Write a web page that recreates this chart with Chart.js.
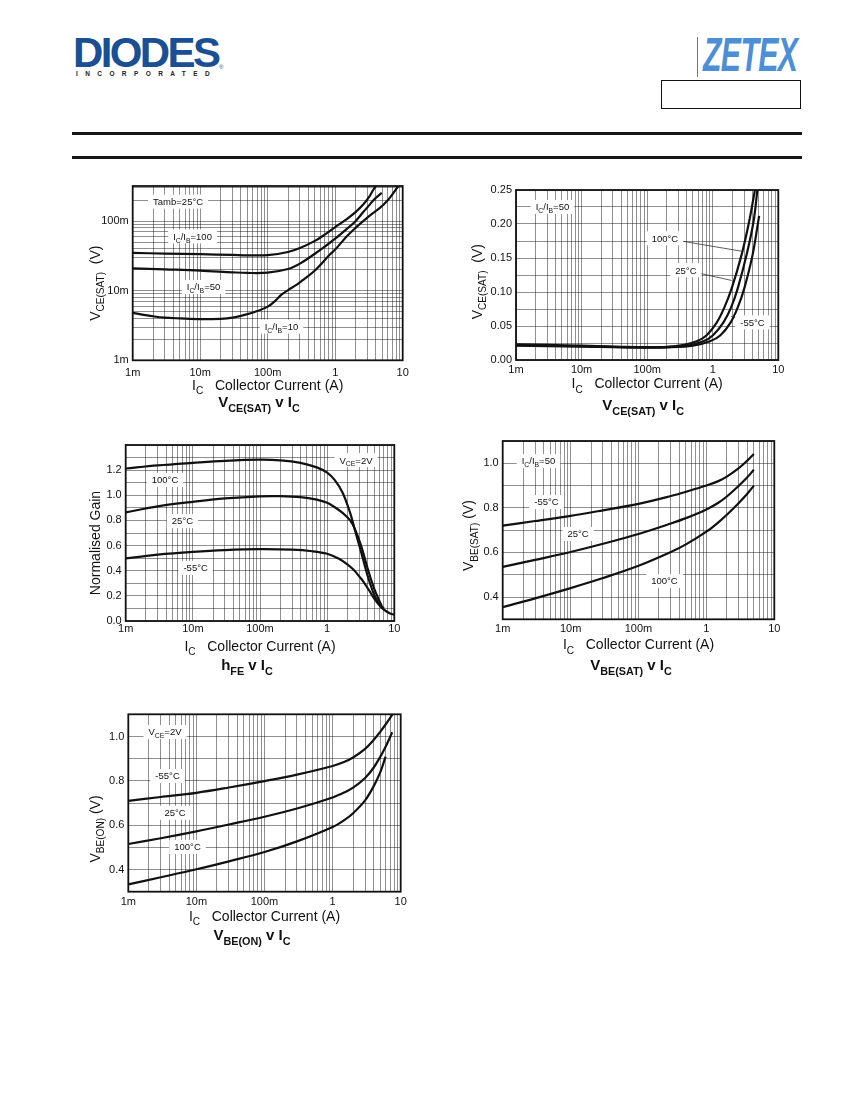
<!DOCTYPE html>
<html>
<head>
<meta charset="utf-8">
<title>Typical characteristics</title>
<script src="https://cdn.jsdelivr.net/npm/chart.js@4.4.1/dist/chart.umd.min.js"></script>
<style>
  body { margin: 0; background: #fff; width: 850px; height: 1100px; position: relative; overflow: hidden;
         font-family: "Liberation Sans", Arial, Helvetica, sans-serif; }
  .abs { position: absolute; line-height: 1; white-space: nowrap; }
  canvas { position: absolute; }
  #diodes { left: 73px; top: 32px; font-size: 42px; font-weight: 900; color: #1b4f93; letter-spacing: -2.6px; }
  #inc { left: 76px; top: 71px; font-size: 6.5px; font-weight: bold; color: #222; letter-spacing: 7.4px; }
  #reg { left: 219px; top: 64px; font-size: 6px; color: #1b4f93; }
  #zetex { left: 703px; top: 31px; font-size: 48px; font-weight: bold; font-style: italic; color: #4d8fd6;
           transform: scaleX(0.63); transform-origin: left top; letter-spacing: -1px; }
  #zbar { left: 697px; top: 37px; width: 1px; height: 40px; background: #777; }
  #pbox { left: 661px; top: 80px; width: 138px; height: 27px; border: 1px solid #111; }
  .rule { left: 72px; width: 730px; height: 2.5px; background: #161616; }
</style>
</head>
<body>
<div class="abs" id="diodes">DIODES</div>
<div class="abs" id="inc">INCORPORATED</div>
<div class="abs" id="reg">®</div>
<div class="abs" id="zbar"></div>
<div class="abs" id="zetex">ZETEX</div>
<div class="abs" id="pbox"></div>
<div class="abs rule" style="top:132px"></div>
<div class="abs rule" style="top:156px"></div>

<canvas id="c1"></canvas>
<canvas id="c2"></canvas>
<canvas id="c3"></canvas>
<canvas id="c4"></canvas>
<canvas id="c5"></canvas>

<script>
var FONT = '"Liberation Sans", Arial, Helvetica, sans-serif';
Chart.defaults.font.family = FONT;
Chart.defaults.color = '#111';

// ---------- values ----------
// collector current axis (A)
var decadeValues = [0.001, 0.01, 0.1, 1, 10];
var decadeNames = ['1m', '10m', '100m', '1', '10'];

// VCE(SAT) v IC, Tamb = 25°C (V, log)
var satIb100X = [0.001, 0.003, 0.01, 0.03, 0.05, 0.1, 0.2, 0.3, 0.5, 0.7, 1, 1.5, 2, 2.6, 3.2, 3.65, 4.1];
var satIb100Y = [0.035, 0.0342, 0.0335, 0.0327, 0.0322, 0.0325, 0.036, 0.041, 0.052, 0.064, 0.082, 0.108, 0.135, 0.173, 0.225, 0.28, 0.33];
var satIb50X = [0.001, 0.003, 0.01, 0.03, 0.05, 0.1, 0.2, 0.3, 0.5, 0.7, 1, 1.5, 2, 2.6, 3.2, 3.6, 4.2, 4.9];
var satIb50Y = [0.021, 0.0203, 0.0195, 0.0184, 0.018, 0.0182, 0.0205, 0.0245, 0.034, 0.043, 0.056, 0.078, 0.1, 0.135, 0.17, 0.195, 0.225, 0.255];
var satIb10X = [0.001, 0.002, 0.003, 0.005, 0.01, 0.02, 0.03, 0.05, 0.07, 0.1, 0.13, 0.16, 0.2, 0.27, 0.35, 0.5, 0.84, 1, 1.5, 2, 2.6, 3.5, 4.6, 6, 7.3, 8.6];
var satIb10Y = [0.0048, 0.0043, 0.0041, 0.004, 0.0039, 0.00395, 0.0041, 0.0046, 0.0051, 0.0059, 0.0072, 0.0088, 0.0102, 0.0122, 0.0148, 0.0195, 0.0334, 0.039, 0.061, 0.08, 0.1, 0.127, 0.155, 0.2, 0.255, 0.32];

// VCE(SAT) v IC, IC/IB = 50 (V, linear)
var satT100X = [0.001, 0.003, 0.01, 0.03, 0.1, 0.2, 0.35, 0.57, 0.8, 1.15, 1.5, 1.94, 2.76, 3.6, 4.4];
var satT100Y = [0.023, 0.0222, 0.021, 0.0197, 0.019, 0.0195, 0.022, 0.0275, 0.036, 0.055, 0.077, 0.105, 0.155, 0.204, 0.25];
var satT25X = [0.001, 0.003, 0.01, 0.03, 0.1, 0.2, 0.4, 0.72, 1, 1.45, 1.9, 2.4, 3.29, 4.2, 4.8];
var satT25Y = [0.022, 0.0213, 0.0202, 0.0192, 0.0185, 0.019, 0.021, 0.0275, 0.036, 0.055, 0.077, 0.105, 0.155, 0.204, 0.25];
var satTm55X = [0.001, 0.003, 0.01, 0.03, 0.1, 0.2, 0.5, 0.91, 1.3, 1.87, 2.4, 3.02, 4.06, 5.1];
var satTm55Y = [0.021, 0.0205, 0.0198, 0.019, 0.0183, 0.0185, 0.021, 0.0275, 0.036, 0.055, 0.077, 0.105, 0.155, 0.212];

// hFE v IC, VCE = 2V (normalised gain)
var hfe100X = [0.001, 0.003, 0.01, 0.03, 0.1, 0.2, 0.4, 0.7, 1, 1.3, 1.7, 2.2, 2.6, 3.2, 4, 5, 6, 7];
var hfe100Y = [1.213, 1.238, 1.258, 1.274, 1.283, 1.278, 1.258, 1.222, 1.18, 1.12, 1.02, 0.86, 0.72, 0.55, 0.36, 0.21, 0.135, 0.1];
var hfe25X = [0.001, 0.003, 0.01, 0.03, 0.1, 0.2, 0.4, 0.7, 1, 1.3, 1.7, 2.2, 2.6, 3.2, 4, 5, 6, 6.5];
var hfe25Y = [0.864, 0.912, 0.948, 0.975, 0.992, 0.993, 0.985, 0.965, 0.94, 0.905, 0.86, 0.8, 0.73, 0.6, 0.42, 0.26, 0.16, 0.12];
var hfeM55X = [0.001, 0.003, 0.01, 0.03, 0.1, 0.3, 0.6, 1, 1.5, 2, 2.5, 3, 3.5, 4.2, 5, 6, 7, 8.5, 10];
var hfeM55Y = [0.498, 0.528, 0.55, 0.564, 0.571, 0.567, 0.555, 0.535, 0.495, 0.45, 0.405, 0.355, 0.31, 0.245, 0.18, 0.125, 0.09, 0.062, 0.05];

// VBE(SAT) v IC, IC/IB = 50 (V)
var bsatX = [0.001, 0.003, 0.01, 0.03, 0.1, 0.3, 0.5, 1, 1.5, 2, 3, 4, 5];
var bsatM55Y = [0.72, 0.741, 0.764, 0.789, 0.818, 0.853, 0.872, 0.9, 0.92, 0.94, 0.978, 1.012, 1.042];
var bsat25Y = [0.535, 0.5665, 0.602, 0.639, 0.683, 0.73, 0.754, 0.793, 0.823, 0.851, 0.899, 0.937, 0.971];
var bsat100Y = [0.355, 0.394, 0.44, 0.485, 0.54, 0.602, 0.636, 0.693, 0.735, 0.769, 0.822, 0.863, 0.9];

// VBE(ON) v IC, VCE = 2V (V)
var bonM55X = [0.001, 0.003, 0.01, 0.03, 0.1, 0.3, 1, 1.5, 2, 3, 4, 5, 6, 7, 8];
var bonM55Y = [0.71, 0.727, 0.746, 0.77, 0.799, 0.828, 0.867, 0.886, 0.905, 0.944, 0.984, 1.021, 1.054, 1.084, 1.11];
var bon25X = [0.001, 0.003, 0.01, 0.03, 0.1, 0.3, 1, 1.5, 2, 3, 4, 5, 6, 7, 7.5];
var bon25Y = [0.515, 0.541, 0.572, 0.603, 0.638, 0.675, 0.725, 0.748, 0.769, 0.813, 0.859, 0.908, 0.954, 0.998, 1.019];
var bon100X = [0.001, 0.003, 0.01, 0.03, 0.1, 0.3, 1, 1.5, 2, 3, 4, 5, 6];
var bon100Y = [0.333, 0.365, 0.401, 0.437, 0.479, 0.527, 0.592, 0.624, 0.654, 0.712, 0.775, 0.838, 0.909];

// ---------- helpers ----------
var GRID = 'rgba(0,0,0,0.55)';

function pts(xs, ys) {
  return xs.map(function (x, i) { return { x: x, y: ys[i] }; });
}

// 1..9 per decade, used for the grid lines of the log axes
function logGrid(min, max) {
  var out = [];
  for (var e = Math.floor(Math.log10(min)); e <= Math.ceil(Math.log10(max)); e++) {
    for (var m = 1; m < 10; m++) {
      var v = +(m * Math.pow(10, e)).toPrecision(3);
      if (v >= min * 0.999 && v <= max * 1.001) out.push(v);
    }
  }
  return out;
}

function logAxis(min, max, pad) {
  return {
    type: 'logarithmic', min: min, max: max,
    afterBuildTicks: function (s) {
      s.ticks = logGrid(min, max).map(function (v) { return { value: v }; });
    },
    ticks: {
      autoSkip: false, maxRotation: 0, padding: pad, font: { size: 11 }, color: '#111',
      callback: function (v) {
        var i = decadeValues.indexOf(v);
        return i < 0 ? '' : decadeNames[i];
      }
    },
    grid: { color: GRID, lineWidth: 0.8, drawTicks: false },
    border: { display: false }
  };
}

function linAxis(min, max, step, every, digits, labelMax) {
  return {
    type: 'linear', min: min, max: max,
    ticks: {
      stepSize: step, autoSkip: false, padding: 4, font: { size: 11 }, color: '#111',
      callback: function (v) {
        var k = Math.round(v / step);
        return (k % every === 0 && v <= labelMax + 1e-9) ? v.toFixed(digits) : '';
      }
    },
    grid: { color: GRID, lineWidth: 0.8, drawTicks: false },
    border: { display: false }
  };
}

function fontStr(size, bold) { return (bold ? 'bold ' : '') + size + 'px ' + FONT; }

// "V_{CE(SAT)}" -> V with subscript CE(SAT)
function richParts(str) {
  var parts = [], re = /_\{([^}]*)\}/g, last = 0, m;
  while ((m = re.exec(str))) {
    if (m.index > last) parts.push({ t: str.slice(last, m.index), sub: false });
    parts.push({ t: m[1], sub: true });
    last = re.lastIndex;
  }
  if (last < str.length) parts.push({ t: str.slice(last), sub: false });
  return parts;
}

function measureRich(ctx, str, size, bold) {
  return richParts(str).reduce(function (w, p) {
    ctx.font = fontStr(p.sub ? size * 0.72 : size, bold);
    return w + ctx.measureText(p.t).width;
  }, 0);
}

// x,y is the centre of the capitals
function drawRich(ctx, str, x, y, size, bold) {
  var total = measureRich(ctx, str, size, bold);
  var cx = x - total / 2, base = y + size * 0.36;
  ctx.textAlign = 'left';
  ctx.textBaseline = 'alphabetic';
  richParts(str).forEach(function (p) {
    ctx.font = fontStr(p.sub ? size * 0.72 : size, bold);
    ctx.fillText(p.t, cx, base + (p.sub ? size * 0.3 : 0));
    cx += ctx.measureText(p.t).width;
  });
}

var sheetPlugin = {
  id: 'sheet',
  afterDatasetsDraw: function (chart, args, o) {
    var ctx = chart.ctx, a = chart.chartArea, x = chart.scales.x, y = chart.scales.y;
    ctx.save();
    (o.leaders || []).forEach(function (l) {
      ctx.beginPath();
      ctx.moveTo(x.getPixelForValue(l[0]), y.getPixelForValue(l[1]));
      ctx.lineTo(x.getPixelForValue(l[2]), y.getPixelForValue(l[3]));
      ctx.strokeStyle = '#333';
      ctx.lineWidth = 0.8;
      ctx.stroke();
    });
    (o.notes || []).forEach(function (n) {
      var px = x.getPixelForValue(n.x), py = y.getPixelForValue(n.y);
      var w = measureRich(ctx, n.text, 9.5, false);
      ctx.fillStyle = '#fff';
      ctx.fillRect(px - w / 2 - 5, py - 7, w + 10, 14);
      ctx.fillStyle = '#111';
      drawRich(ctx, n.text, px, py, 9.5, false);
    });
    ctx.strokeStyle = '#111';
    ctx.lineWidth = 1.8;
    ctx.strokeRect(a.left, a.top, a.right - a.left, a.bottom - a.top);
    ctx.restore();
  },
  afterDraw: function (chart, args, o) {
    var ctx = chart.ctx, a = chart.chartArea;
    var mx = (a.left + a.right) / 2, my = (a.top + a.bottom) / 2;
    ctx.save();
    ctx.fillStyle = '#111';
    ctx.translate(a.left + o.yTitleDx, my + o.yTitleDy);
    ctx.rotate(-Math.PI / 2);
    drawRich(ctx, o.yTitle, 0, 0, 14, false);
    ctx.restore();
    ctx.save();
    ctx.fillStyle = '#111';
    drawRich(ctx, 'I_{C}   Collector Current (A)', mx, a.bottom + o.xTitleDy, 14, false);
    drawRich(ctx, o.caption, mx + o.capDx, a.bottom + o.capDy, 15, true);
    ctx.restore();
  }
};

function curve(xs, ys) {
  return {
    data: pts(xs, ys), borderColor: '#111', borderWidth: 2.2, pointRadius: 0,
    fill: false, tension: 0.35
  };
}

function makeSheet(id, plot, xAxis, yAxis, datasets, sheet) {
  var canvas = document.getElementById(id);
  var cl = Math.floor(plot.l - 62), ct = Math.floor(plot.t - 14);
  var cw = Math.ceil(plot.r + 24) - cl, ch = Math.ceil(plot.b + 62) - ct;
  canvas.style.left = cl + 'px';
  canvas.style.top = ct + 'px';
  canvas.width = cw;
  canvas.height = ch;
  canvas.style.width = cw + 'px';
  canvas.style.height = ch + 'px';
  xAxis.afterFit = function (s) { s.height = ct + ch - plot.b; };
  yAxis.afterFit = function (s) { s.width = plot.l - cl; };
  return new Chart(canvas, {
    type: 'line',
    data: { datasets: datasets },
    options: {
      responsive: false, animation: false, parsing: false,
      layout: { padding: { top: plot.t - ct, right: cl + cw - plot.r, bottom: 0, left: 0 } },
      scales: { x: xAxis, y: yAxis },
      plugins: { legend: { display: false }, tooltip: { enabled: false }, sheet: sheet }
    },
    plugins: [sheetPlugin]
  });
}

// ---------- the five graphs ----------
makeSheet('c1', { l: 132.7, t: 186, r: 402.7, b: 360.3 },
  logAxis(0.001, 10, 6), logAxis(0.001, 0.32, 4),
  [curve(satIb100X, satIb100Y), curve(satIb50X, satIb50Y), curve(satIb10X, satIb10Y)],
  {
    yTitle: 'V_{CE(SAT)}  (V)', yTitleDx: -37.7, yTitleDy: 10, xTitleDy: 24.7,
    caption: 'V_{CE(SAT)} v I_{C}', capDx: -8.7, capDy: 41.4,
    notes: [
      { text: 'Tamb=25°C', x: 0.0047, y: 0.191 },
      { text: 'I_{C}/I_{B}=100', x: 0.0077, y: 0.0605 },
      { text: 'I_{C}/I_{B}=50', x: 0.0112, y: 0.0113 },
      { text: 'I_{C}/I_{B}=10', x: 0.16, y: 0.00305 }
    ]
  });

makeSheet('c2', { l: 516, t: 190, r: 778.3, b: 360 },
  logAxis(0.001, 10, 3), linAxis(0, 0.25, 0.025, 2, 2, 0.25),
  [curve(satT100X, satT100Y), curve(satT25X, satT25Y), curve(satTm55X, satTm55Y)],
  {
    yTitle: 'V_{CE(SAT)}  (V)', yTitleDx: -39.3, yTitleDy: 6.7, xTitleDy: 23.3,
    caption: 'V_{CE(SAT)} v I_{C}', capDx: -4, capDy: 45,
    leaders: [[0.187, 0.179, 2.75, 0.16], [0.39, 0.132, 1.94, 0.117], [4.03, 0.0554, 1.9, 0.064]],
    notes: [
      { text: 'I_{C}/I_{B}=50', x: 0.0036, y: 0.225 },
      { text: '100°C', x: 0.187, y: 0.179 },
      { text: '25°C', x: 0.39, y: 0.132 },
      { text: '-55°C', x: 4.03, y: 0.0554 }
    ]
  });

makeSheet('c3', { l: 125.7, t: 445, r: 394.3, b: 621 },
  logAxis(0.001, 10, 1), linAxis(0, 1.4, 0.1, 2, 1, 1.2),
  [curve(hfe100X, hfe100Y), curve(hfe25X, hfe25Y), curve(hfeM55X, hfeM55Y)],
  {
    yTitle: 'Normalised Gain', yTitleDx: -30.7, yTitleDy: 10, xTitleDy: 24.7,
    caption: 'h_{FE} v I_{C}', capDx: -13, capDy: 44,
    notes: [
      { text: '100°C', x: 0.00385, y: 1.122 },
      { text: '25°C', x: 0.007, y: 0.795 },
      { text: '-55°C', x: 0.011, y: 0.422 },
      { text: 'V_{CE}=2V', x: 2.69, y: 1.28 }
    ]
  });

makeSheet('c4', { l: 502.7, t: 441, r: 774.3, b: 619.3 },
  logAxis(0.001, 10, 3), linAxis(0.3, 1.1, 0.1, 2, 1, 1.0),
  [curve(bsatX, bsatM55Y), curve(bsatX, bsat25Y), curve(bsatX, bsat100Y)],
  {
    yTitle: 'V_{BE(SAT)} (V)', yTitleDx: -34.4, yTitleDy: 5.5, xTitleDy: 25,
    caption: 'V_{BE(SAT)} v I_{C}', capDx: -7.5, capDy: 45.7,
    notes: [
      { text: 'I_{C}/I_{B}=50', x: 0.00336, y: 1.01 },
      { text: '-55°C', x: 0.00442, y: 0.826 },
      { text: '25°C', x: 0.0129, y: 0.683 },
      { text: '100°C', x: 0.241, y: 0.472 }
    ]
  });

makeSheet('c5', { l: 128.3, t: 714.3, r: 400.7, b: 891.7 },
  logAxis(0.001, 10, 4), linAxis(0.3, 1.1, 0.1, 2, 1, 1.0),
  [curve(bonM55X, bonM55Y), curve(bon25X, bon25Y), curve(bon100X, bon100Y)],
  {
    yTitle: 'V_{BE(ON)} (V)', yTitleDx: -33.3, yTitleDy: 26, xTitleDy: 24,
    caption: 'V_{BE(ON)} v I_{C}', capDx: -12.5, capDy: 43.3,
    notes: [
      { text: 'V_{CE}=2V', x: 0.00346, y: 1.02 },
      { text: '-55°C', x: 0.00377, y: 0.822 },
      { text: '25°C', x: 0.00485, y: 0.656 },
      { text: '100°C', x: 0.0074, y: 0.502 }
    ]
  });
</script>
</body>
</html>
